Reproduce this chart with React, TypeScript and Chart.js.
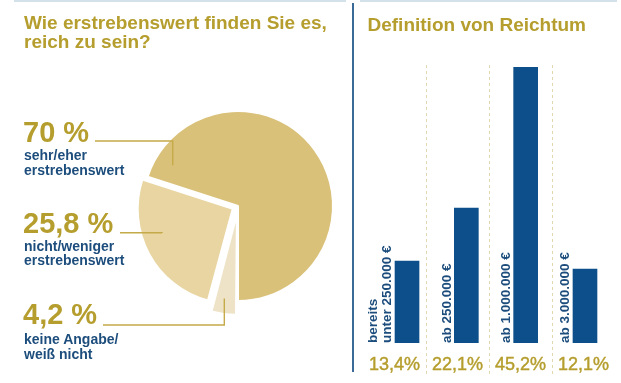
import React, { useEffect, useRef, useState } from "react";
import { Chart, registerables } from "chart.js";

Chart.register(...registerables);

// ---------- data ----------
const leftTitle = ["Wie erstrebenswert finden Sie es,", "reich zu sein?"];
const rightTitle = "Definition von Reichtum";

// pie slices, in drawing order (clockwise, starting at the bottom)
const pieValues = [4.2, 25.8, 70];
const pieValueLabels = ["4,2 %", "25,8 %", "70 %"];
const pieCategoryLabels = [
  ["keine Angabe/", "weiß nicht"],
  ["nicht/weniger", "erstrebenswert"],
  ["sehr/eher", "erstrebenswert"],
];

const barCategories = [
  ["bereits", "unter 250.000 €"],
  ["ab 250.000 €"],
  ["ab 1.000.000 €"],
  ["ab 3.000.000 €"],
];
const barValues = [13.4, 22.1, 45.2, 12.1];
const barValueLabels = ["13,4%", "22,1%", "45,2%", "12,1%"];

// ---------- styles / layout ----------
const FONT = '"Liberation Sans", Arial, Helvetica, sans-serif';
const GOLD = "#b59e2e";
const BLUE_TEXT = "#1c4d7c";
const BAR_COLOR = "#0d4f8b";
const PIE_COLORS = ["#eee3c6", "#e8d5a2", "#d9c179"];
const PIE_OFFSETS = [32, 24, 0];
const LEADER = "#c4aa48";
const SEPARATOR = "#e2d8b0";

const pieLabelLayout = [
  { top: 299.5, textTop: 332, line: [103, 325], anchor: [188.5, 0.9] },
  { top: 208.5, textTop: 238.6, line: [120, 232.7], anchor: [251.2, 0.786] },
  { top: 117.5, textTop: 148.4, line: [95, 141], anchor: [302, 0.81] },
];

const LEFT_W = 352;
const RIGHT_X = 352;
const RIGHT_W = 269;
const H = 383;
// column band (canvas-relative x) used for separators and value labels
const COL_LEFT = 11;
const COL_RIGHT = 263;

const leaderPlugin = {
  id: "leaders",
  afterDatasetsDraw(chart: any) {
    const ctx = chart.ctx;
    const meta = chart.getDatasetMeta(0);
    ctx.save();
    ctx.strokeStyle = LEADER;
    ctx.lineWidth = 1.4;
    meta.data.forEach((arc: any, i: number) => {
      const L = pieLabelLayout[i];
      const p = arc.getProps(["x", "y", "startAngle", "endAngle", "outerRadius"], true);
      const off = (arc.options.offset || 0) / 4;
      const mid = (p.startAngle + p.endAngle) / 2;
      const cx = p.x + Math.cos(mid) * off;
      const cy = p.y + Math.sin(mid) * off;
      const a = ((L.anchor[0] - 90) * Math.PI) / 180;
      const r = p.outerRadius * L.anchor[1];
      const ax = cx + Math.cos(a) * r;
      const ay = cy + Math.sin(a) * r;
      ctx.beginPath();
      ctx.moveTo(L.line[0], L.line[1]);
      ctx.lineTo(ax, L.line[1]);
      ctx.lineTo(ax, ay);
      ctx.stroke();
    });
    ctx.restore();
  },
};

const separatorPlugin = {
  id: "separators",
  beforeDatasetsDraw(chart: any) {
    const { ctx } = chart;
    const n = barValues.length;
    const colW = (COL_RIGHT - COL_LEFT) / n;
    ctx.save();
    ctx.strokeStyle = SEPARATOR;
    ctx.lineWidth = 1;
    ctx.setLineDash([3, 3]);
    for (let i = 1; i < n; i++) {
      const x = Math.round(COL_LEFT + colW * i) + 0.5;
      ctx.beginPath();
      ctx.moveTo(x, 65);
      ctx.lineTo(x, 374);
      ctx.stroke();
    }
    ctx.restore();
  },
};

type BarGeo = { bars: { left: number; base: number }[]; cols: number[] };

export default function App() {
  const pieRef = useRef<HTMLCanvasElement>(null);
  const barRef = useRef<HTMLCanvasElement>(null);
  const [geo, setGeo] = useState<BarGeo | null>(null);

  useEffect(() => {
    const pie = new Chart(pieRef.current as HTMLCanvasElement, {
      type: "pie",
      data: {
        labels: pieValueLabels,
        datasets: [
          {
            data: pieValues,
            backgroundColor: PIE_COLORS,
            borderColor: "#ffffff",
            borderWidth: 2,
            offset: PIE_OFFSETS,
            rotation: 180,
            radius: 95,
          } as any,
        ],
      },
      options: {
        responsive: false,
        animation: false,
        events: [],
        rotation: 180,
        radius: 95,
        layout: { padding: { left: 138, right: 14, top: 106, bottom: 77 } },
        plugins: { legend: { display: false }, tooltip: { enabled: false } },
      } as any,
      plugins: [leaderPlugin],
    });

    const bar = new Chart(barRef.current as HTMLCanvasElement, {
      type: "bar",
      data: {
        labels: barCategories.map((l) => l.join(" ")),
        datasets: [
          {
            data: barValues,
            backgroundColor: BAR_COLOR,
            barThickness: 24,
          } as any,
        ],
      },
      options: {
        responsive: false,
        animation: false,
        events: [],
        layout: { padding: { left: 25.35, right: 6.35, top: 67, bottom: 40 } },
        scales: {
          x: { type: "category", display: false },
          y: { min: 0, max: Math.max(...barValues), display: false },
        },
        plugins: { legend: { display: false }, tooltip: { enabled: false } },
      } as any,
      plugins: [separatorPlugin],
    });

    const meta = bar.getDatasetMeta(0);
    const colW = (COL_RIGHT - COL_LEFT) / barValues.length;
    setGeo({
      bars: meta.data.map((el: any) => {
        const p = el.getProps(["x", "base", "width"], true);
        return { left: p.x - p.width / 2, base: p.base };
      }),
      cols: barValues.map((_, i) => COL_LEFT + colW * (i + 0.5)),
    });

    return () => {
      pie.destroy();
      bar.destroy();
    };
  }, []);

  const abs = (s: React.CSSProperties): React.CSSProperties => ({ position: "absolute", ...s });

  return (
    <div
      style={{
        position: "absolute",
        left: 0,
        top: 0,
        width: 621,
        height: H,
        background: "#ffffff",
        fontFamily: FONT,
        overflow: "hidden",
      }}
    >
      {/* top rules and divider */}
      <div style={abs({ left: 14, top: 0, width: 332, height: 2, background: "#d3e1ea" })} />
      <div style={abs({ left: 360, top: 0, width: 257, height: 2, background: "#d3e1ea" })} />
      <div style={abs({ left: 352, top: 3, width: 1.5, height: 369, background: "#3b6a96" })} />

      <canvas ref={pieRef} width={LEFT_W} height={H} style={abs({ left: 0, top: 0, width: LEFT_W, height: H })} />
      <canvas ref={barRef} width={RIGHT_W} height={H} style={abs({ left: RIGHT_X, top: 0, width: RIGHT_W, height: H })} />

      {/* titles */}
      <div
        style={abs({
          left: 24,
          top: 13.2,
          fontSize: 19,
          lineHeight: "19px",
          fontWeight: 700,
          color: GOLD,
          whiteSpace: "nowrap",
        })}
      >
        {leftTitle.map((t, i) => (
          <div key={i}>{t}</div>
        ))}
      </div>
      <div
        style={abs({
          left: 367.5,
          top: 14.9,
          fontSize: 19,
          lineHeight: "19px",
          fontWeight: 700,
          color: GOLD,
          whiteSpace: "nowrap",
        })}
      >
        {rightTitle}
      </div>

      {/* pie labels */}
      {pieValues.map((_, i) => {
        const L = pieLabelLayout[i];
        return (
          <React.Fragment key={i}>
            <div
              style={abs({
                left: 23,
                top: L.top,
                fontSize: 29,
                lineHeight: "29px",
                fontWeight: 700,
                color: GOLD,
                whiteSpace: "nowrap",
              })}
            >
              {pieValueLabels[i]}
            </div>
            <div
              style={abs({
                left: 24,
                top: L.textTop,
                fontSize: 14,
                lineHeight: "14.5px",
                fontWeight: 700,
                color: BLUE_TEXT,
                whiteSpace: "nowrap",
              })}
            >
              {pieCategoryLabels[i].map((t, j) => (
                <div key={j}>{t}</div>
              ))}
            </div>
          </React.Fragment>
        );
      })}

      {/* bar labels */}
      {geo &&
        barCategories.map((lines, i) => {
          const b = geo.bars[i];
          const lh = 14;
          return (
            <div
              key={i}
              style={abs({
                left: RIGHT_X + b.left - lines.length * lh - 0.7,
                top: b.base,
                transformOrigin: "0 0",
                transform: "rotate(-90deg)",
                fontSize: 13.5,
                lineHeight: lh + "px",
                fontWeight: 700,
                color: BLUE_TEXT,
                whiteSpace: "nowrap",
              })}
            >
              {lines.map((t, j) => (
                <div key={j}>{t}</div>
              ))}
            </div>
          );
        })}
      {geo &&
        barValueLabels.map((t, i) => (
          <div
            key={i}
            style={abs({
              left: RIGHT_X + geo.cols[i] - 40,
              top: 354.8,
              width: 80,
              textAlign: "center",
              fontSize: 18,
              lineHeight: "18px",
              color: GOLD,
              WebkitTextStroke: "0.45px " + GOLD,
              whiteSpace: "nowrap",
            })}
          >
            {t}
          </div>
        ))}
    </div>
  );
}
